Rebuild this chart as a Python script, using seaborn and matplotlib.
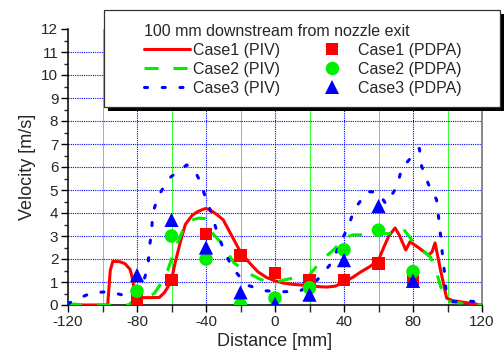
import numpy as np
import pandas as pd
import matplotlib
matplotlib.use("Agg")
import matplotlib.pyplot as plt
from matplotlib.patches import Rectangle
from matplotlib.lines import Line2D
import seaborn as sns

# ---- data ----
case1_piv_x = [-120, -97, -95.5, -94, -90, -87, -84, -82.5, -81, -78, -72, -67, -64, -62, -60,
               -58, -55, -52, -48, -45, -42, -40, -37, -34, -30, -25, -20, -15, -10, -5,
               0, 5, 10, 15, 20, 25, 30, 35, 40, 45, 50, 55, 60, 63, 66, 69.6, 72,
               75.8, 78.3, 84, 88.9, 91, 92.8, 96, 99.5, 103, 120]
case1_piv_v = [0, 0, 1.5, 1.9, 1.88, 1.8, 1.55, 1.1, 0.35, 0.32, 0.32, 0.33, 0.55, 0.8, 1.1,
               1.8, 2.7, 3.5, 3.9, 4.05, 4.15, 4.2, 4.1, 3.95, 3.7, 3.0, 2.3, 1.85, 1.45, 1.2,
               1.05, 0.95, 0.9, 0.87, 0.85, 0.8, 0.78, 0.82, 1.0, 1.2, 1.45, 1.67, 1.95, 2.5, 3.0, 3.35, 3.05,
               2.39, 2.75, 2.45, 2.17, 2.3, 2.7, 1.5, 0.3, 0.19, 0.0]

case2_piv_x = [-120, -115, -110, -100, -90, -85, -80, -75, -70, -66, -62, -59, -56, -52, -48, -44,
               -40, -36, -30, -24, -16, -8, 0, 6, 12, 20, 27, 34, 40, 45, 50, 55, 60, 66, 70,
               74, 80, 85, 90, 93, 96, 100, 110, 120]
case2_piv_v = [0.05, 0.03, 0, 0, 0, 0, 0.3, 0.3, 0.5, 0.95, 1.55, 2.2, 2.8, 3.5, 3.7, 3.78,
               3.75, 3.1, 2.6, 1.85, 1.4, 1.1, 1.0, 1.1, 1.2, 1.3, 1.95, 2.4, 2.9, 3.05, 3.05,
               3.05, 3.1, 3.1, 3.2, 3.35, 2.75, 2.4, 2.1, 1.6, 0.8, 0.15, 0.07, 0.0]

case3_piv_x = [-120, -116.5, -106.3, -96.2, -86, -80, -76.7, -73.6, -72.9, -71.5, -70.9, -67.6,
               -61.4, -51.2, -47, -43.9, -40.4, -36.7, -33.5, -29.6, -24.8, -16.4, -5.8, 3,
               14, 24.5, 32.9, 37.7, 42.2, 46, 53.5, 60, 64.3, 70.9, 73.4, 79.8, 83.7, 85,
               88.9, 93.7, 94.9, 96, 97, 98.2, 99.1, 103, 113, 120]
case3_piv_v = [0.05, 0.2, 0.53, 0.58, 0.39, 0.6, 0.91, 1.67, 2.43, 3.23, 4.0, 4.74,
               5.51, 6.09, 5.9, 5.45, 4.71, 3.96, 3.14, 2.39, 1.62, 0.87, 0.62, 0.58,
               0.58, 1.09, 1.84, 2.68, 3.35, 4.16, 4.93, 4.9, 4.39, 5.17, 5.94, 6.49, 6.81, 6.04,
               5.26, 4.57, 3.77, 3.0, 2.25, 1.45, 0.68, 0.15, 0.17, 0.1]

pdpa_x = [-80, -60, -40, -20, 0, 20, 40, 60, 80]
case1_pdpa_v = [0.25, 1.1, 3.1, 2.15, 1.4, 1.1, 1.1, 1.8, 1.15]
case2_pdpa_v = [0.6, 3.0, 2.0, 0.0, 0.3, 0.75, 2.4, 3.25, 1.45]
case3_pdpa_v = [1.3, 3.7, 2.5, 0.55, 0.05, 0.45, 1.95, 4.3, 1.05]

legend_title = "100 mm downstream from nozzle exit"
labels_piv = ["Case1 (PIV)", "Case2 (PIV)", "Case3 (PIV)"]
labels_pdpa = ["Case1 (PDPA)", "Case2 (PDPA)", "Case3 (PDPA)"]
x_label = "Distance [mm]"
y_label = "Velocity [m/s]"

RED, GREEN, BLUE = "#ff0000", "#00ee00", "#0000ff"

sns.set_style("ticks")
plt.rcParams["font.family"] = ["Liberation Sans", "DejaVu Sans"]
plt.rcParams["axes.unicode_minus"] = False

fig = plt.figure(figsize=(5.04, 3.52), dpi=100)
ax = fig.add_axes([68 / 504, 1 - 305 / 352, 414 / 504, 276 / 352])

# grid
for gx in [-100, -60, -20, 20, 60, 100]:
    ax.axvline(gx, color="#33ff33", lw=0.7, zorder=0.5)
for gx in [-80, -40, 0, 40, 80]:
    ax.axvline(gx, color=BLUE, lw=0.8, ls=(0, (1, 1)), zorder=0.5)
for gy in range(1, 12):
    ax.axhline(gy, color=BLUE, lw=0.8, ls=(0, (1, 1)), zorder=0.5)

lw = 2.2
sns.lineplot(x=case1_piv_x, y=case1_piv_v, color=RED, lw=lw, ax=ax, sort=False, zorder=3)
sns.lineplot(x=case2_piv_x, y=case2_piv_v, color=GREEN, lw=lw, ax=ax, sort=False, zorder=3)
ax.lines[-1].set_dashes((4.6, 4.9))
sns.lineplot(x=case3_piv_x, y=case3_piv_v, color=BLUE, lw=lw, ax=ax, sort=False, zorder=3)
ax.lines[-1].set_dashes((1.0, 4.8))
ax.lines[-1].set_dash_capstyle("round")

sns.scatterplot(x=pdpa_x, y=case1_pdpa_v, marker="s", s=78, color=RED, edgecolor="none",
                linewidth=0, ax=ax, zorder=4)
sns.scatterplot(x=pdpa_x, y=case2_pdpa_v, marker="o", s=95, color=GREEN, edgecolor="none",
                linewidth=0, ax=ax, zorder=5)
sns.scatterplot(x=pdpa_x, y=case3_pdpa_v, marker="^", s=105, color=BLUE, edgecolor="none",
                linewidth=0, ax=ax, zorder=6)

ax.set_xlim(-120, 120)
ax.set_ylim(0, 12)
ax.set_xticks(np.arange(-120, 121, 40))
ax.set_xticks(np.arange(-100, 101, 40), minor=True)
ax.set_yticks(np.arange(0, 13, 1))
ax.set_yticks(np.arange(0.5, 12, 1), minor=True)
ax.tick_params(axis="both", which="major", labelsize=11, length=5, width=1, color="black",
               pad=2, direction="out")
ax.tick_params(axis="x", which="minor", length=5, width=1, direction="out")
ax.tick_params(axis="y", which="minor", length=3, width=1, direction="out")
ax.set_xlabel(x_label, fontsize=13, labelpad=3)
ax.set_ylabel(y_label, fontsize=13, labelpad=4)

for sp in ["left", "bottom"]:
    ax.spines[sp].set_color("black")
    ax.spines[sp].set_linewidth(1.1)
ax.spines["right"].set_visible(True)
ax.spines["right"].set_color("#888888")
ax.spines["right"].set_linewidth(1.4)
ax.spines["top"].set_visible(False)
ax.set_facecolor("white")

# legend box with shadow
bx0, by0, bx1, by1 = 104 / 504, 1 - 107 / 352, 500 / 504, 1 - 10 / 352
sh = Rectangle((bx0 + 4 / 504, by0 - 4 / 352), bx1 - bx0, by1 - by0, transform=fig.transFigure,
               facecolor="black", edgecolor="none", zorder=9)
box = Rectangle((bx0, by0), bx1 - bx0, by1 - by0, transform=fig.transFigure,
                facecolor="white", edgecolor="#333333", lw=0.9, zorder=10)
fig.patches.extend([sh, box])

handles = [
    Line2D([], [], color=RED, lw=lw),
    Line2D([], [], color=GREEN, lw=lw, dashes=(4.6, 4.9)),
    Line2D([], [], color=BLUE, lw=lw, dashes=(1.0, 4.8), dash_capstyle="round"),
    Line2D([], [], color=RED, marker="s", ls="none", markersize=8.8, markeredgewidth=0),
    Line2D([], [], color=GREEN, marker="o", ls="none", markersize=9.7, markeredgewidth=0),
    Line2D([], [], color=BLUE, marker="^", ls="none", markersize=10, markeredgewidth=0),
]
leg = fig.legend(handles, labels_piv + labels_pdpa, ncol=2, title=legend_title,
                 loc="upper left", bbox_to_anchor=(144 / 504, 1 - 24 / 352),
                 frameon=False, fontsize=11.5, title_fontsize=11.5, alignment="left",
                 handlelength=2.85, handletextpad=0.2, columnspacing=1.85,
                 labelspacing=0.25, borderpad=0, borderaxespad=0)
leg.set_zorder(11)

fig.savefig("out.png", dpi=100)
